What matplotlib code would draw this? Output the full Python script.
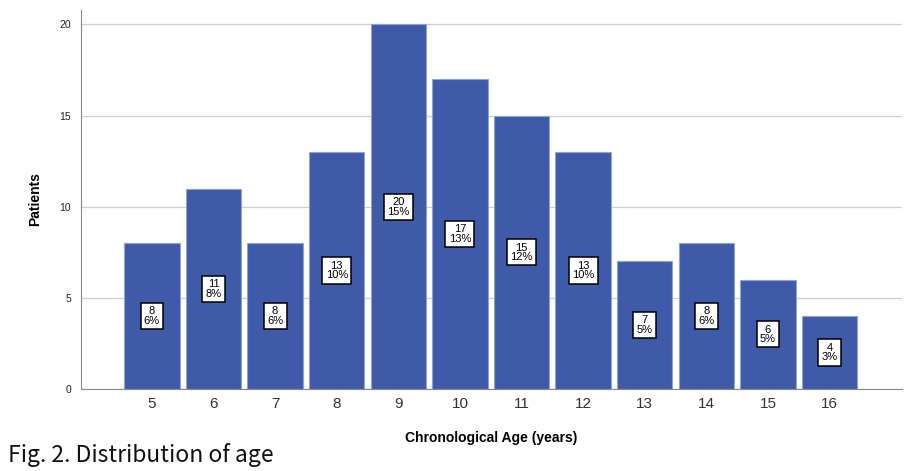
import matplotlib.pyplot as plt

plt.rcParams['font.family'] = ['Liberation Sans', 'DejaVu Sans']

# Data
ages = [5, 6, 7, 8, 9, 10, 11, 12, 13, 14, 15, 16]
patients = [8, 11, 8, 13, 20, 17, 15, 13, 7, 8, 6, 4]
percents = ['6%', '8%', '6%', '10%', '15%', '13%', '12%', '10%', '5%', '6%', '5%', '3%']

fig = plt.figure(figsize=(9.21, 4.71), dpi=100)
ax = fig.add_axes([0.088, 0.174, 0.891, 0.805])

ax.bar(ages, patients, width=0.9, color='#3f5aa8', edgecolor='#8fa3d6', linewidth=0.8, zorder=2)

for a, p, pc in zip(ages, patients, percents):
    ax.text(a, p / 2, f"{p}\n{pc}", ha='center', va='center', fontsize=8, linespacing=0.95,
            bbox=dict(boxstyle='square,pad=0.3', fc='white', ec='black', lw=1.1), zorder=3)

ax.set_xlim(3.85, 17.17)
ax.set_ylim(0, 20.8)
ax.set_yticks([0, 5, 10, 15, 20])
ax.set_xticks(ages)
ax.yaxis.grid(True, color='#d0d0d0', lw=0.9, zorder=0)
ax.set_axisbelow(True)

for s in ['top', 'right']:
    ax.spines[s].set_visible(False)
ax.spines['left'].set_color('#888888')
ax.spines['bottom'].set_color('#888888')

ax.tick_params(axis='y', length=0, labelsize=7.5, pad=7, colors='#222222')
ax.tick_params(axis='x', length=0, labelsize=11, pad=6, colors='#333333')

ax.set_ylabel('Patients', fontsize=10, fontweight='bold')
ax.yaxis.set_label_coords(-0.047, 0.5)
ax.set_xlabel('Chronological Age (years)', fontsize=10, fontweight='bold', labelpad=14)

fig.text(0.009, 0.02, 'Fig. 2. Distribution of age', fontsize=16.5, color='#111111',
         family=['Noto Sans CJK KR', 'DejaVu Sans'])

fig.savefig('out.png', dpi=100)
